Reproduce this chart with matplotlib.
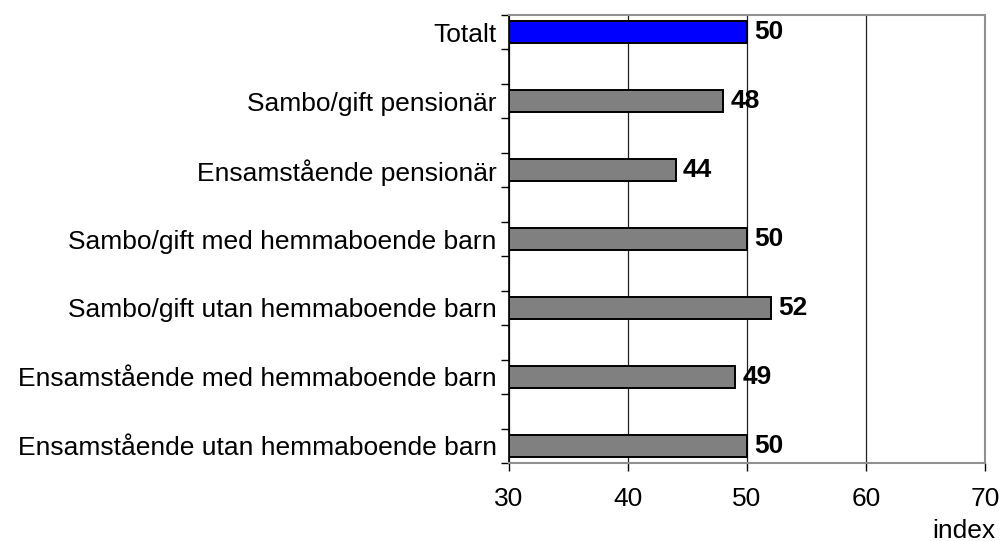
import numpy as np
import matplotlib.pyplot as plt
from matplotlib.ticker import FixedLocator

plt.rcParams["font.family"] = ["Liberation Sans", "DejaVu Sans"]

"Data"
categories = ["Totalt",
              "Sambo/gift pensionär",
              "Ensamstående pensionär",
              "Sambo/gift med hemmaboende barn",
              "Sambo/gift utan hemmaboende barn",
              "Ensamstående med hemmaboende barn",
              "Ensamstående utan hemmaboende barn"]
values = [50, 48, 44, 50, 52, 49, 50]
colors = ["#0000FF"] + ["#808080"] * 6

"Figure properties"
Font_Size = 19
fig = plt.figure(figsize=(10.01, 5.41), dpi=100)
ax = fig.add_axes([509/1001, 1-463/541, (985-509)/1001, (463-15)/541])

# each category sits on every second slot, empty slots between
ypos = np.arange(len(categories)) * 2
base = 30
ax.barh(ypos, np.array(values) - base, left=base, height=0.64,
        color=colors, edgecolor="black", linewidth=1.4, zorder=3)

for y, v in zip(ypos, values):
    ax.text(v + 0.6, y, str(v), va="center", ha="left",
            fontsize=Font_Size, fontweight="bold", zorder=4)

ax.set_xlim(30, 70)
ax.set_ylim(ypos[-1] + 0.5, -0.5)
ax.set_xticks([30, 40, 50, 60, 70])
ax.set_yticks(ypos)
ax.set_yticklabels(categories, fontsize=Font_Size)
ax.yaxis.set_minor_locator(FixedLocator(np.arange(-0.5, ypos[-1] + 1, 1)))

ax.tick_params(axis="y", which="major", length=0, pad=9)
ax.tick_params(axis="y", which="minor", length=6, width=1, direction="out")
ax.tick_params(axis="x", length=6, width=1, labelsize=Font_Size, pad=11)

ax.grid(axis="x", color="#202020", linewidth=0.9, zorder=0)

ax.spines["left"].set_color("black")
ax.spines["left"].set_linewidth(1.2)
for s in ["top", "right", "bottom"]:
    ax.spines[s].set_color("#909090")
    ax.spines[s].set_linewidth(1.5)

fig.text(995/1001, 1-531/541, "index", ha="right", va="center", fontsize=Font_Size)

plt.savefig("out.png", dpi=100)
